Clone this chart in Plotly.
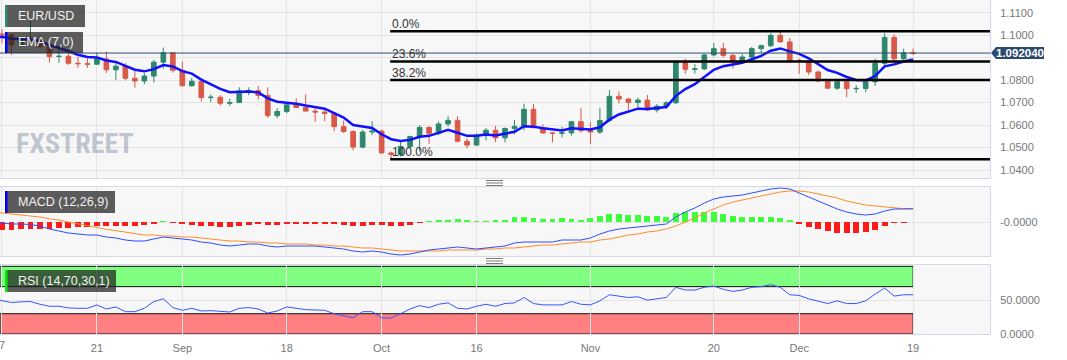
import plotly.graph_objects as go

# ---------------- data ----------------
dates = [
    "2023-08-04", "2023-08-07", "2023-08-08", "2023-08-09", "2023-08-10", "2023-08-11",
    "2023-08-14", "2023-08-15", "2023-08-16", "2023-08-17", "2023-08-18",
    "2023-08-21", "2023-08-22", "2023-08-23", "2023-08-24", "2023-08-25",
    "2023-08-28", "2023-08-29", "2023-08-30", "2023-08-31",
    "2023-09-01", "2023-09-04", "2023-09-05", "2023-09-06", "2023-09-07", "2023-09-08",
    "2023-09-11", "2023-09-12", "2023-09-13", "2023-09-14", "2023-09-15",
    "2023-09-18", "2023-09-19", "2023-09-20", "2023-09-21", "2023-09-22",
    "2023-09-25", "2023-09-26", "2023-09-27", "2023-09-28", "2023-09-29",
    "2023-10-02", "2023-10-03", "2023-10-04", "2023-10-05", "2023-10-06",
    "2023-10-09", "2023-10-10", "2023-10-11", "2023-10-12", "2023-10-13",
    "2023-10-16", "2023-10-17", "2023-10-18", "2023-10-19", "2023-10-20",
    "2023-10-23", "2023-10-24", "2023-10-25", "2023-10-26", "2023-10-27",
    "2023-10-30", "2023-10-31",
    "2023-11-01", "2023-11-02", "2023-11-03", "2023-11-06", "2023-11-07",
    "2023-11-08", "2023-11-09", "2023-11-10", "2023-11-13", "2023-11-14",
    "2023-11-15", "2023-11-16", "2023-11-17", "2023-11-20", "2023-11-21",
    "2023-11-22", "2023-11-23", "2023-11-24", "2023-11-27", "2023-11-28",
    "2023-11-29", "2023-11-30",
    "2023-12-01", "2023-12-04", "2023-12-05", "2023-12-06", "2023-12-07",
    "2023-12-08", "2023-12-11", "2023-12-12", "2023-12-13", "2023-12-14",
    "2023-12-15", "2023-12-18", "2023-12-19",
]

open_ = [
    1.0945, 1.1005, 1.1002, 1.0956, 1.0973, 1.0981, 1.0948, 1.0905, 1.0906, 1.0875, 1.0873,
    1.0871, 1.0894, 1.0846, 1.0862, 1.0808, 1.0796, 1.0818, 1.0880, 1.0922,
    1.0844, 1.0775, 1.0795, 1.0722, 1.0724, 1.0697, 1.0700, 1.0752, 1.0753, 1.0732, 1.0642,
    1.0660, 1.0690, 1.0678, 1.0662, 1.0658, 1.0652, 1.0593, 1.0571, 1.0502, 1.0569,
    1.0573, 1.0476, 1.0469, 1.0505, 1.0549, 1.0589, 1.0563, 1.0605, 1.0621, 1.0528,
    1.0511, 1.0553, 1.0577, 1.0543, 1.0585, 1.0594, 1.0670, 1.0588, 1.0565, 1.0563, 1.0565, 1.0615,
    1.0575, 1.0569, 1.0620, 1.0728, 1.0716, 1.0700, 1.0711, 1.0667, 1.0684, 1.0699,
    1.0881, 1.0848, 1.0850, 1.0912, 1.0940, 1.0910, 1.0888, 1.0903, 1.0940, 1.0953, 1.0999, 1.0970,
    1.0888, 1.0884, 1.0836, 1.0796, 1.0764, 1.0793, 1.0762, 1.0763, 1.0793, 1.0875, 1.0990, 1.0895, 1.0922,
]
high = [
    1.1043, 1.1027, 1.1004, 1.0996, 1.1065, 1.1000, 1.0958, 1.0954, 1.0935, 1.0904, 1.0897,
    1.0921, 1.0928, 1.0877, 1.0875, 1.0840, 1.0831, 1.0891, 1.0945, 1.0923,
    1.0882, 1.0810, 1.0802, 1.0737, 1.0733, 1.0717, 1.0768, 1.0768, 1.0774, 1.0768, 1.0675,
    1.0699, 1.0719, 1.0737, 1.0673, 1.0673, 1.0655, 1.0620, 1.0577, 1.0579, 1.0617,
    1.0580, 1.0482, 1.0525, 1.0553, 1.0600, 1.0595, 1.0616, 1.0640, 1.0640, 1.0541,
    1.0564, 1.0587, 1.0596, 1.0589, 1.0622, 1.0695, 1.0694, 1.0603, 1.0570, 1.0592, 1.0619, 1.0675,
    1.0613, 1.0677, 1.0756, 1.0749, 1.0721, 1.0722, 1.0734, 1.0693, 1.0706, 1.0888,
    1.0895, 1.0871, 1.0915, 1.0965, 1.0966, 1.0918, 1.0915, 1.0948, 1.0958, 1.1009, 1.1017, 1.0988,
    1.0896, 1.0887, 1.0841, 1.0804, 1.0795, 1.0804, 1.0777, 1.0804, 1.0895, 1.1009, 1.1004, 1.0940, 1.0941,
]
low = [
    1.0940, 1.0964, 1.0912, 1.0948, 1.0963, 1.0941, 1.0878, 1.0877, 1.0868, 1.0855, 1.0855,
    1.0869, 1.0832, 1.0800, 1.0798, 1.0766, 1.0782, 1.0790, 1.0851, 1.0833,
    1.0771, 1.0771, 1.0705, 1.0702, 1.0686, 1.0685, 1.0700, 1.0733, 1.0713, 1.0632, 1.0631,
    1.0653, 1.0675, 1.0662, 1.0615, 1.0616, 1.0573, 1.0565, 1.0488, 1.0496, 1.0555,
    1.0472, 1.0448, 1.0460, 1.0494, 1.0483, 1.0516, 1.0555, 1.0593, 1.0523, 1.0496,
    1.0508, 1.0532, 1.0524, 1.0523, 1.0560, 1.0577, 1.0590, 1.0561, 1.0523, 1.0545, 1.0553, 1.0566,
    1.0516, 1.0560, 1.0613, 1.0696, 1.0665, 1.0667, 1.0664, 1.0656, 1.0672, 1.0694,
    1.0828, 1.0829, 1.0845, 1.0905, 1.0901, 1.0852, 1.0873, 1.0897, 1.0920, 1.0947, 1.0968, 1.0882,
    1.0828, 1.0822, 1.0790, 1.0763, 1.0757, 1.0723, 1.0743, 1.0746, 1.0775, 1.0866, 1.0885, 1.0886, 1.0911,
]
close = [
    1.1005, 1.1002, 1.0956, 1.0973, 1.0981, 1.0948, 1.0905, 1.0906, 1.0875, 1.0873, 1.0871,
    1.0894, 1.0846, 1.0862, 1.0808, 1.0796, 1.0818, 1.0880, 1.0922, 1.0844,
    1.0775, 1.0795, 1.0722, 1.0724, 1.0697, 1.0700, 1.0752, 1.0753, 1.0732, 1.0642, 1.0660,
    1.0690, 1.0678, 1.0662, 1.0658, 1.0652, 1.0593, 1.0571, 1.0502, 1.0569, 1.0573,
    1.0476, 1.0469, 1.0505, 1.0549, 1.0589, 1.0563, 1.0605, 1.0621, 1.0528, 1.0511,
    1.0553, 1.0577, 1.0543, 1.0585, 1.0594, 1.0670, 1.0588, 1.0565, 1.0563, 1.0565, 1.0615, 1.0575,
    1.0569, 1.0620, 1.0728, 1.0716, 1.0700, 1.0711, 1.0667, 1.0684, 1.0699, 1.0881,
    1.0848, 1.0850, 1.0912, 1.0940, 1.0910, 1.0888, 1.0903, 1.0940, 1.0953, 1.0999, 1.0970, 1.0888,
    1.0884, 1.0836, 1.0796, 1.0764, 1.0793, 1.0762, 1.0763, 1.0793, 1.0875, 1.0990, 1.0895, 1.0922, 1.0920,
]
ema7 = [
    1.0990, 1.0993, 1.0984, 1.0981, 1.0981, 1.0973, 1.0956, 1.0944, 1.0927, 1.0913, 1.0903,
    1.0901, 1.0887, 1.0881, 1.0863, 1.0846, 1.0839, 1.0849, 1.0867, 1.0861,
    1.0840, 1.0829, 1.0802, 1.0782, 1.0761, 1.0746, 1.0748, 1.0749, 1.0745, 1.0719, 1.0704,
    1.0700, 1.0695, 1.0687, 1.0680, 1.0673, 1.0653, 1.0633, 1.0600, 1.0592, 1.0587,
    1.0559, 1.0537, 1.0529, 1.0534, 1.0548, 1.0552, 1.0565, 1.0579, 1.0566, 1.0552,
    1.0552, 1.0558, 1.0554, 1.0562, 1.0570, 1.0595, 1.0593, 1.0586, 1.0580, 1.0576, 1.0586, 1.0583,
    1.0580, 1.0590, 1.0624, 1.0647, 1.0660, 1.0673, 1.0671, 1.0674, 1.0680, 1.0730,
    1.0760, 1.0782, 1.0815, 1.0846, 1.0862, 1.0869, 1.0877, 1.0893, 1.0908, 1.0931, 1.0941, 1.0928,
    1.0917, 1.0897, 1.0872, 1.0845, 1.0832, 1.0814, 1.0801, 1.0799, 1.0818, 1.0861, 1.0870, 1.0883, 1.0892,
]
# MACD (12,26,9) in pips (1 pip = 0.0001)
macd_line = [
    0, -3, -6, -6, -7.5, -12, -21, -27, -33, -36, -39,
    -39, -45, -48, -54, -57, -57, -51, -45, -48,
    -51, -54, -60, -63, -69, -72, -69, -66, -66, -72, -75,
    -72, -72, -72, -72, -75, -78, -81, -87, -90, -87,
    -90, -96, -99, -96, -90, -84, -81, -78, -75, -78,
    -81, -78, -75, -72, -63, -60, -60, -60, -60, -54, -54, -54,
    -48, -36, -27, -21, -18, -15, -12, -9, -6, 15,
    30, 42, 57, 69, 75, 78, 81, 87, 93, 99, 102, 99,
    87, 75, 63, 51, 39, 30, 24, 21, 24, 33, 39, 39, 40,
]
signal_line = [
    30, 27, 24, 21, 18, 15, 9, 6, 0, -6, -12,
    -18, -22, -26, -30, -34, -39, -39, -42, -42,
    -45, -45, -48, -51, -54, -57, -57, -60, -60, -63, -63,
    -66, -66, -66, -69, -69, -72, -72, -75, -78, -78,
    -81, -84, -87, -87, -87, -87, -87, -84, -84, -84,
    -84, -81, -81, -78, -78, -75, -72, -69, -69, -66, -63, -60,
    -60, -54, -51, -45, -39, -36, -30, -27, -21, -12,
    0, 12, 27, 39, 51, 60, 66, 72, 78, 84, 90, 93,
    93, 90, 84, 78, 72, 63, 57, 51, 48, 45, 42, 40, 39,
]
macd_hist = [
    -24, -24, -24, -22, -21, -21, -21, -18, -18, -15, -15,
    -12, -12, -12, -12, -12, -9, -6, 2, -3,
    -6, -9, -12, -12, -15, -15, -12, -9, -6, -9, -9,
    -6, -6, -6, -6, -6, -6, -9, -12, -12, -9,
    -9, -12, -12, -9, -3, 3, 6, 6, 9, 6,
    3, 3, 6, 6, 15, 15, 12, 9, 9, 12, 9, 6,
    12, 18, 24, 24, 21, 21, 18, 18, 15, 27,
    30, 30, 30, 30, 24, 18, 15, 15, 15, 15, 12, 6,
    -6, -15, -21, -27, -33, -33, -33, -30, -24, -12, -3, -2, 1,
]
rsi = [
    52, 49.5, 46.5, 47.5, 48, 44, 41, 41, 38.5, 38, 38,
    43, 37, 40, 33, 33, 38, 48, 52, 39,
    35, 38, 34, 34.5, 33, 32.5, 38, 39, 37, 31, 34,
    40, 38, 36, 35.5, 35, 30, 27, 24, 33, 33,
    24, 23.5, 30, 37, 42, 39, 44, 46, 38, 37,
    41, 44, 41, 45, 46, 54, 45, 43, 43, 43, 48, 44,
    43, 49, 58, 56, 54, 55, 50, 52, 54, 69,
    65, 65, 69, 71, 66, 63, 65, 69, 70, 73, 69, 58,
    57, 52, 48, 45, 49, 45, 45, 49, 59, 68, 56, 58, 58,
]

tick_dates = ["2023-08-07", "2023-08-21", "2023-09-01", "2023-09-18", "2023-10-02",
              "2023-10-16", "2023-11-01", "2023-11-20", "2023-12-01", "2023-12-19"]
tick_text = ["7", "21", "Sep", "18", "Oct", "16", "Nov", "20", "Dec", "19"]
price_ticks = [1.04, 1.05, 1.06, 1.07, 1.08, 1.09, 1.10, 1.11]
price_labels = ["1.0400", "1.0500", "1.0600", "1.0700", "1.0800", "", "1.1000", "1.1100"]
fib_labels = ["0.0%", "23.6%", "38.2%", "100.0%"]
fib_prices = [1.1017, 1.0883, 1.0800, 1.0448]
fib_start = "2023-10-03"
last_price = 1.09204
last_price_text = "1.092040"

# ---------------- geometry helpers ----------------
W, H = 1067, 360
ML, MR, MT, MB = 0, 77, 0, 26
PW, PH = W - ML - MR, H - MT - MB


def px_x(p):
    return p / PW


def px_y(p):
    return (PH - p) / PH


n = len(dates)
xs = list(range(n))
pos = {d: i for i, d in enumerate(dates)}
tick_x = [pos[d] for d in tick_dates]
x_lo, x_hi = 0.79, 105.1
last_x = pos[dates[-1]]

GREEN = "#2e876c"
RED = "#d85a47"
GRID = "#e4e4e4"
FRAME = "#d3d9e8"
LABEL_FONT = "Liberation Sans, Arial, sans-serif"

fig = go.Figure()

fig.add_trace(go.Candlestick(
    x=xs, open=open_, high=high, low=low, close=close,
    increasing=dict(line=dict(color=GREEN, width=1), fillcolor=GREEN),
    decreasing=dict(line=dict(color=RED, width=1), fillcolor=RED),
    whiskerwidth=0, xaxis="x", yaxis="y", hoverinfo="skip",
))
fig.add_trace(go.Scatter(x=xs, y=ema7, mode="lines",
                         line=dict(color="#1010ff", width=2.5),
                         xaxis="x", yaxis="y", hoverinfo="skip"))

hist_colors = ["#ff1a1a" if v < 0 else "#3dff3d" for v in macd_hist]
fig.add_trace(go.Bar(x=xs, y=macd_hist, marker=dict(color=hist_colors, line=dict(width=0)),
                     width=0.62, xaxis="x2", yaxis="y2", hoverinfo="skip"))
fig.add_trace(go.Scatter(x=xs, y=signal_line, mode="lines",
                         line=dict(color="#ff8c26", width=1),
                         xaxis="x2", yaxis="y2", hoverinfo="skip"))
fig.add_trace(go.Scatter(x=xs, y=macd_line, mode="lines",
                         line=dict(color="#2e4dff", width=1),
                         xaxis="x2", yaxis="y2", hoverinfo="skip"))

fig.add_trace(go.Scatter(x=xs, y=rsi, mode="lines",
                         line=dict(color="#3556ff", width=1),
                         xaxis="x3", yaxis="y3", hoverinfo="skip"))

axis_common = dict(
    range=[x_lo, x_hi], tickmode="array", tickvals=tick_x, ticktext=tick_text,
    showgrid=True, gridcolor=GRID, gridwidth=1, zeroline=False, automargin=False,
    showline=True, mirror=True, linecolor=FRAME, linewidth=1,
)
ytick_font = dict(family=LABEL_FONT, size=11, color="#777777")
yaxis_common = dict(side="right", tickmode="array", showgrid=True, gridcolor=GRID,
                    zeroline=False, automargin=False, showline=True, mirror=True,
                    linecolor=FRAME, ticks="outside", ticklen=7,
                    tickcolor="rgba(0,0,0,0)", tickfont=ytick_font)

shapes = []
annotations = []

# RSI bands
shapes.append(dict(type="rect", xref="x3", yref="y3", x0=x_lo, x1=last_x, y0=70, y1=100,
                   fillcolor="#80ff80", line=dict(color="#111111", width=1), layer="below"))
shapes.append(dict(type="rect", xref="x3", yref="y3", x0=x_lo, x1=last_x, y0=0, y1=30,
                   fillcolor="#ff8080", line=dict(color="#111111", width=1), layer="below"))

# last price line
shapes.append(dict(type="line", xref="paper", yref="y", x0=0, x1=1, y0=last_price, y1=last_price,
                   line=dict(color="#2c4a6e", width=1)))

# fib lines + labels
for lab, pr in zip(fib_labels, fib_prices):
    shapes.append(dict(type="line", xref="x", yref="y", x0=pos[fib_start] - 0.1, x1=x_hi,
                       y0=pr, y1=pr, line=dict(color="#000000", width=2.5)))
    annotations.append(dict(xref="x", yref="y", x=pos[fib_start] - 0.1, y=pr, text=lab,
                            xanchor="left", yanchor="bottom", showarrow=False, yshift=-2,
                            font=dict(family=LABEL_FONT, size=12, color="#333333")))

# price tag
tag_y = last_price
shapes.append(dict(type="path", xref="paper", yref="y",
                   path=f"M {px_x(991)},{tag_y} L {px_x(996)},{tag_y + 0.0027} "
                        f"L {px_x(1044)},{tag_y + 0.0027} L {px_x(1044)},{tag_y - 0.0027} "
                        f"L {px_x(996)},{tag_y - 0.0027} Z",
                   fillcolor="#2c4a6e", line=dict(width=0)))
annotations.append(dict(xref="paper", yref="y", x=px_x(1020), y=tag_y, text=f"<b>{last_price_text}</b>",
                        showarrow=False, xanchor="center", yanchor="middle",
                        font=dict(family=LABEL_FONT, size=11.5, color="#ffffff")))

# first x tick label (sits on the left edge, partly cut like the original)
annotations.append(dict(xref="x3", yref="paper", x=tick_x[0], y=px_y(345), text=tick_text[0],
                        showarrow=False, xanchor="center", yanchor="middle",
                        font=dict(family=LABEL_FONT, size=11, color="#777777")))

# label boxes
boxes = [
    ("EUR/USD", 5, 85, 5, 27, "#2e8b6e"),
    ("EMA (7,0)", 5, 83, 32, 53, "#0000ff"),
    ("MACD (12,26,9)", 5, 115, 191, 213, "#0000ff"),
    ("RSI (14,70,30,1)", 5, 116, 270, 292, "#00ee00"),
]
for txt, x0, x1, y0, y1, strip in boxes:
    shapes.append(dict(type="rect", xref="paper", yref="paper",
                       x0=px_x(x0), x1=px_x(x1), y0=px_y(y1), y1=px_y(y0),
                       fillcolor="rgba(30,30,30,0.72)", line=dict(width=0)))
    shapes.append(dict(type="rect", xref="paper", yref="paper",
                       x0=px_x(x0), x1=px_x(x0 + 2.5), y0=px_y(y1), y1=px_y(y0),
                       fillcolor=strip, line=dict(width=0)))
    annotations.append(dict(xref="paper", yref="paper", x=px_x(x0 + 11), y=px_y((y0 + y1) / 2),
                            text=txt, showarrow=False, xanchor="left", yanchor="middle",
                            font=dict(family=LABEL_FONT, size=12.5, color="#f2f2f2")))

# panel separators (grab handles)
for yc in (183, 261):
    for dy in (-2.5, 0, 2.5):
        shapes.append(dict(type="line", xref="paper", yref="paper",
                           x0=px_x(486), x1=px_x(503), y0=px_y(yc + dy), y1=px_y(yc + dy),
                           line=dict(color="#7a7a7a", width=1)))

# watermark
annotations.append(dict(xref="paper", yref="paper", x=px_x(14), y=px_y(143),
                        text="<b>FXSTREET</b>", showarrow=False, xanchor="left", yanchor="middle",
                        font=dict(family="Liberation Sans Narrow, Roboto Condensed, Liberation Sans",
                                  size=28, color="rgba(120,135,160,0.45)")))

fig.update_layout(
    width=W, height=H,
    margin=dict(l=ML, r=MR, t=MT, b=MB, autoexpand=False),
    paper_bgcolor="#ffffff", plot_bgcolor="#f7f7f7",
    showlegend=False, hovermode=False, bargap=0,
    xaxis=dict(axis_common, anchor="y", showticklabels=False, rangeslider=dict(visible=False)),
    xaxis2=dict(axis_common, anchor="y2", matches="x", showticklabels=False),
    xaxis3=dict(axis_common, anchor="y3", matches="x", showticklabels=True,
                ticks="outside", ticklen=4, tickcolor="rgba(0,0,0,0)",
                tickfont=dict(family=LABEL_FONT, size=11, color="#777777")),
    yaxis=dict(yaxis_common, domain=[px_y(178), 1], range=[1.03644, 1.11565],
               tickvals=price_ticks, ticktext=price_labels),
    yaxis2=dict(yaxis_common, domain=[px_y(256), px_y(187)], range=[-102, 105],
                tickvals=[0], ticktext=["-0.0000"]),
    yaxis3=dict(yaxis_common, domain=[0, px_y(265)], range=[0, 102],
                tickvals=[0, 50], ticktext=["0.0000", "50.0000"]),
    shapes=shapes, annotations=annotations,
)

fig.write_html("out.html", config={"displayModeBar": False, "staticPlot": True},
               post_script="document.body.style.margin='0px';")
